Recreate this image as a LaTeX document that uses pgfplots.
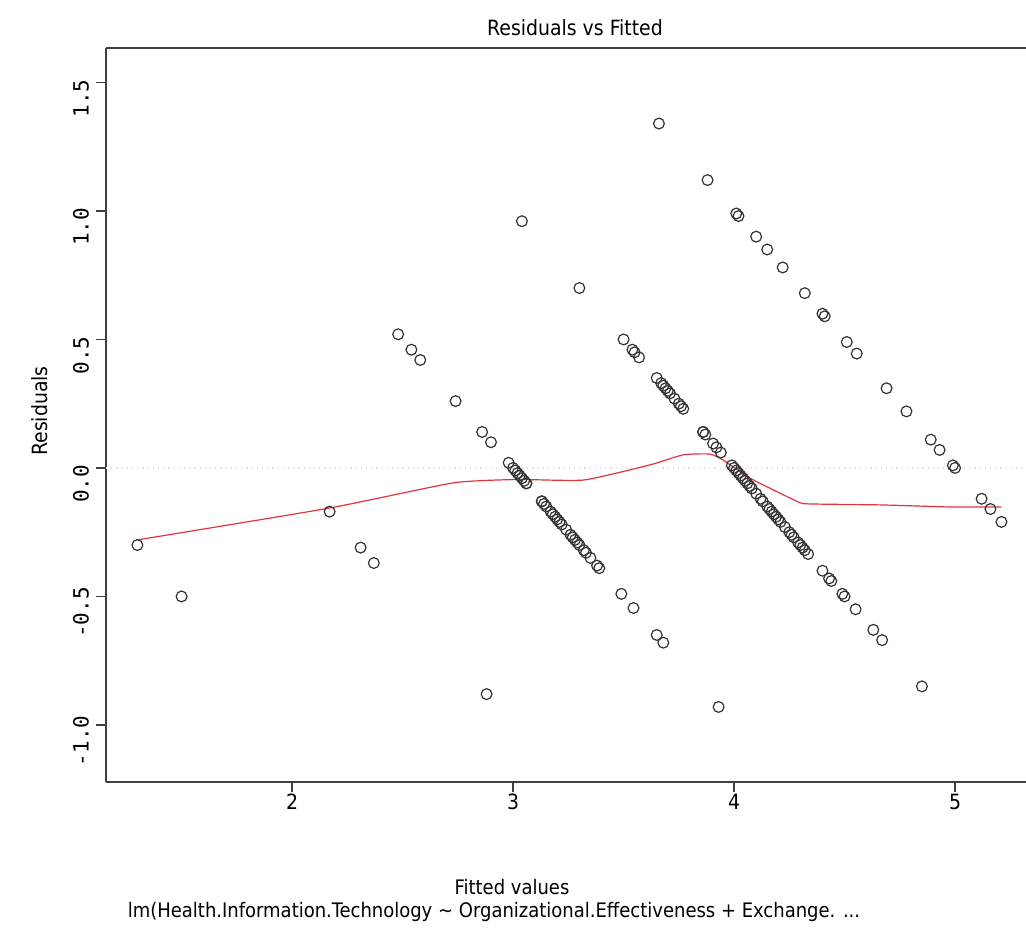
\documentclass[border=0pt]{standalone}
\usepackage{pgfplots}
\pgfplotsset{compat=1.18}
\usepackage{fontspec}
\setmainfont{DejaVu Sans Condensed}
\newfontfamily\monof{DejaVu Sans Mono}
\definecolor{rred}{RGB}{226,52,62}
\begin{document}
\begin{tikzpicture}
\path[use as bounding box] (0,0) rectangle (513pt,467.5pt);
\begin{axis}[
  at={(53pt,76.5pt)}, anchor=south west,
  scale only axis, width=460pt, height=367pt,
  xmin=1.158, xmax=5.321, ymin=-1.222, ymax=1.634,
  axis x line*=box, axis y line*=left,
  axis line style={draw=black!75, line width=0.9pt},
  xtick={2,3,4,5}, ytick={-1,-0.5,0,0.5,1,1.5},
  yticklabels={-1.0,-0.5,0.0,0.5,1.0,1.5},
  xticklabels={2,3,4,5},
  tick align=outside, tick pos=left,
  major tick length=5pt,
  tick style={black!75, line width=0.6pt},
  xticklabel style={font=\fontsize{10.5}{12}\selectfont, yshift=2.5pt},
  yticklabel style={font=\monof\fontsize{10.5}{12}\selectfont, rotate=90, anchor=south, xshift=-8pt},
  clip=false,
]
\addplot[gray!25, line width=0.6pt, dotted, forget plot] coordinates {(1.158,0) (5.321,0)};
\addplot[only marks, mark=o, mark size=2.7pt, mark options={draw=black!80, line width=0.6pt}] coordinates {
(1.30,-0.30)(1.50,-0.50)
(2.17,-0.17)(2.31,-0.31)(2.37,-0.37)(2.88,-0.88)
(2.48,0.52)(2.54,0.46)(2.58,0.42)(2.74,0.26)(2.86,0.14)(2.90,0.10)(2.98,0.02)(3.00,0.00)(3.01,-0.01)(3.02,-0.02)(3.03,-0.03)(3.04,-0.04)(3.05,-0.05)(3.06,-0.06)(3.06,-0.06)(3.13,-0.13)(3.13,-0.13)(3.14,-0.14)(3.15,-0.15)(3.17,-0.17)(3.18,-0.18)(3.19,-0.19)(3.20,-0.20)(3.21,-0.21)(3.22,-0.22)(3.24,-0.24)(3.26,-0.26)(3.27,-0.27)(3.28,-0.28)(3.29,-0.29)(3.30,-0.30)(3.32,-0.32)(3.33,-0.33)(3.35,-0.35)(3.38,-0.38)(3.39,-0.39)(3.49,-0.49)(3.545,-0.545)(3.65,-0.65)(3.68,-0.68)(3.93,-0.93)
(3.04,0.96)(3.30,0.70)(3.50,0.50)(3.54,0.46)(3.55,0.45)(3.57,0.43)(3.65,0.35)(3.67,0.33)(3.68,0.32)(3.69,0.31)(3.70,0.30)(3.71,0.29)(3.73,0.27)(3.75,0.25)(3.76,0.24)(3.77,0.23)(3.86,0.14)(3.86,0.14)(3.87,0.13)(3.905,0.095)(3.92,0.08)(3.94,0.06)(3.99,0.01)(4.00,0.00)(4.01,-0.01)(4.02,-0.02)(4.03,-0.03)(4.04,-0.04)(4.05,-0.05)(4.06,-0.06)(4.07,-0.07)(4.08,-0.08)(4.10,-0.10)(4.12,-0.12)(4.13,-0.13)(4.15,-0.15)(4.16,-0.16)(4.17,-0.17)(4.18,-0.18)(4.19,-0.19)(4.20,-0.20)(4.21,-0.21)(4.23,-0.23)(4.25,-0.25)(4.26,-0.26)(4.27,-0.27)(4.29,-0.29)(4.30,-0.30)(4.31,-0.31)(4.32,-0.32)(4.335,-0.335)(4.40,-0.40)(4.43,-0.43)(4.44,-0.44)(4.49,-0.49)(4.50,-0.50)(4.55,-0.55)(4.63,-0.63)(4.67,-0.67)(4.85,-0.85)
(3.66,1.34)(3.88,1.12)(4.01,0.99)(4.02,0.98)(4.10,0.90)(4.15,0.85)(4.22,0.78)(4.32,0.68)(4.40,0.60)(4.41,0.59)(4.51,0.49)(4.555,0.445)(4.69,0.31)(4.78,0.22)(4.89,0.11)(4.93,0.07)(4.99,0.01)(5.00,0.00)(5.12,-0.12)(5.16,-0.16)(5.21,-0.21)
};
\addplot[rred, line width=0.6pt, smooth, tension=0.3] coordinates {
(1.30,-0.28)(2.17,-0.156)(2.73,-0.058)(3.02,-0.045)(3.32,-0.047)(3.62,0.012)(3.77,0.051)(3.89,0.054)(3.95,0.031)(4.07,-0.039)(4.29,-0.132)(4.34,-0.140)(4.67,-0.144)(4.98,-0.152)(5.21,-0.152)
};
\end{axis}
\node[font=\fontsize{10.5}{12}\selectfont] at (287.5pt,453.5pt) {Residuals vs Fitted};
\node[font=\fontsize{10.5}{12}\selectfont, rotate=90] at (20pt,262pt) {Residuals};
\node[font=\fontsize{10}{12}\selectfont] at (256pt,24pt) {Fitted values};
\node[font=\fontsize{10}{12}\selectfont] at (247pt,11.5pt) {lm(Health.Information.Technology \textasciitilde{} Organizational.Effectiveness + Exchange. ...};
\end{tikzpicture}
\end{document}
